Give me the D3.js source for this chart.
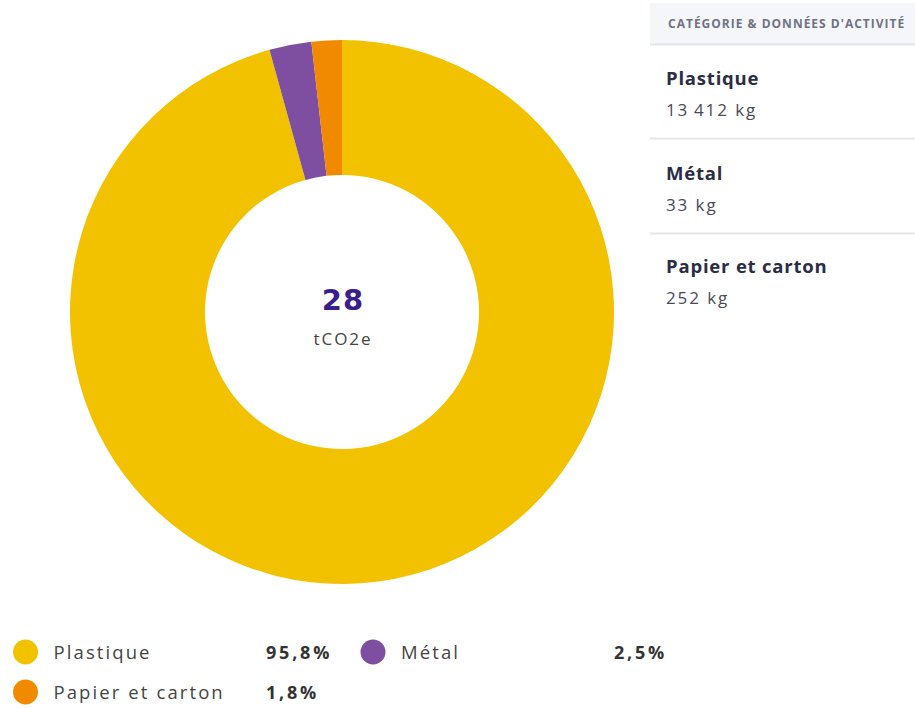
<!DOCTYPE html>
<html>
<head>
<meta charset="utf-8">
<script src="https://cdn.jsdelivr.net/npm/d3@7"></script>
<style>
  html, body { margin: 0; padding: 0; background: #ffffff; }
  svg { display: block; font-family: "Open Sans", Lato, sans-serif; }
</style>
</head>
<body>
<svg id="chart" width="915" height="708"></svg>
<script>
// Emission shares by waste category
const categories = ["Plastique", "Métal", "Papier et carton"];
const shares = [95.8, 2.5, 1.8];
const shareLabels = ["95,8%", "2,5%", "1,8%"];
const activity = ["13\u2009412 kg", "33 kg", "252 kg"];
const colors = ["#F2C200", "#7E4FA0", "#F28A00"];
const totalValue = "28";
const totalUnit = "tCO2e";
const panelTitle = "CATÉGORIE & DONNÉES D'ACTIVITÉ";

const svg = d3.select("#chart");

// Donut
const cx = 342, cy = 312, outerR = 272, innerR = 137;
const pie = d3.pie().sort(null).value(d => d.v);
const arc = d3.arc().innerRadius(innerR).outerRadius(outerR);
const data = categories.map((c, i) => ({ c, v: shares[i], col: colors[i] }));

const g = svg.append("g").attr("transform", `translate(${cx},${cy})`);
g.selectAll("path")
  .data(pie(data))
  .join("path")
  .attr("d", arc)
  .attr("fill", d => d.data.col);

// Total in the hole
g.append("text")
  .attr("text-anchor", "middle")
  .attr("x", 1)
  .attr("y", -2)
  .attr("fill", "#3B1E8E")
  .attr("font-family", "'DejaVu Sans', 'Open Sans', sans-serif")
  .attr("font-size", 29)
  .attr("font-weight", 700)
  .attr("letter-spacing", 1)
  .text(totalValue);
g.append("text")
  .attr("text-anchor", "middle")
  .attr("x", 1)
  .attr("y", 33)
  .attr("fill", "#444")
  .attr("font-size", 17)
  .attr("letter-spacing", 2)
  .text(totalUnit);

// Side panel with activity data
const px = 650, pw = 265;
svg.append("rect")
  .attr("x", px).attr("y", 3).attr("width", pw).attr("height", 41)
  .attr("fill", "#F5F6F9");
svg.append("line")
  .attr("x1", px).attr("x2", px + pw).attr("y1", 44.5).attr("y2", 44.5)
  .attr("stroke", "#E3E5EC").attr("stroke-width", 2);
svg.append("text")
  .attr("x", 668).attr("y", 28)
  .attr("fill", "#707284")
  .attr("font-size", 12)
  .attr("font-weight", 700)
  .attr("letter-spacing", 1.0)
  .text(panelTitle);

const rowY = [85, 180, 273];
categories.forEach((c, i) => {
  svg.append("text")
    .attr("x", 666).attr("y", rowY[i])
    .attr("fill", "#2A2D45")
    .attr("font-size", 18.5)
    .attr("font-weight", 700)
    .attr("letter-spacing", 0.8)
    .text(c);
  svg.append("text")
    .attr("x", 666).attr("y", rowY[i] + 31)
    .attr("fill", "#4A4A5A")
    .attr("font-size", 17)
    .attr("letter-spacing", 1.9)
    .text(activity[i]);
  if (i < categories.length - 1) {
    svg.append("line")
      .attr("x1", px).attr("x2", px + pw)
      .attr("y1", rowY[i] + 53.5).attr("y2", rowY[i] + 53.5)
      .attr("stroke", "#E6E7EC").attr("stroke-width", 2);
  }
});

// Legend
const legendPos = [
  { x: 25.5, y: 652, vx: 266 },
  { x: 373, y: 652, vx: 614 },
  { x: 25.5, y: 692, vx: 266 }
];
categories.forEach((c, i) => {
  const p = legendPos[i];
  svg.append("circle")
    .attr("cx", p.x).attr("cy", p.y).attr("r", 12.5)
    .attr("fill", colors[i]);
  svg.append("text")
    .attr("x", p.x + 28).attr("y", p.y + 7)
    .attr("fill", "#454545")
    .attr("font-size", 18.5)
    .attr("letter-spacing", 2.1)
    .text(c);
  svg.append("text")
    .attr("x", p.vx).attr("y", p.y + 7)
    .attr("fill", "#333")
    .attr("font-size", 18)
    .attr("font-weight", 700)
    .attr("letter-spacing", 2.8)
    .text(shareLabels[i]);
});
</script>
</body>
</html>
